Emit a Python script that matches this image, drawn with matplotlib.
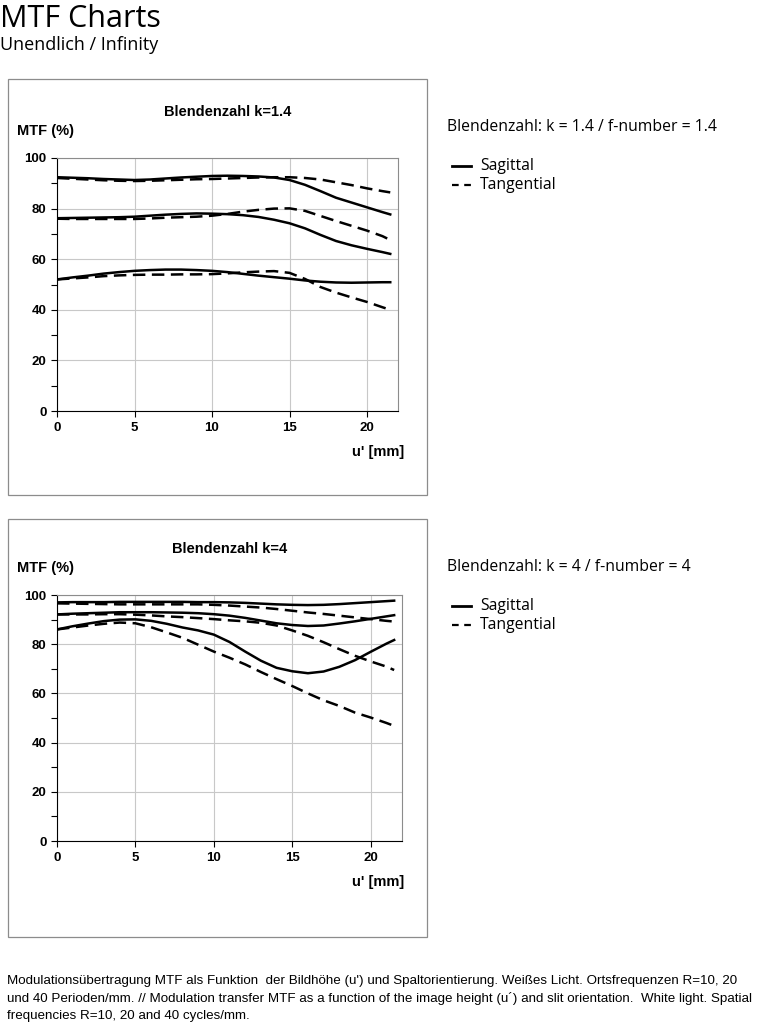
import matplotlib
matplotlib.use("Agg")
import matplotlib.pyplot as plt
from matplotlib.patches import Rectangle
from matplotlib.lines import Line2D

# image height u' [mm]
u = [0, 1, 2, 3, 4, 5, 6, 7, 8, 9, 10, 11, 12, 13, 14, 15, 16, 17, 18, 19, 20, 21, 21.5]

# k = 1.4  (S = sagittal, T = tangential; 10/20/40 cycles/mm)
s10_k14 = [92.4, 92.2, 92.0, 91.7, 91.5, 91.3, 91.5, 91.9, 92.3, 92.6, 92.9, 93.0, 92.9, 92.7, 92.3, 91.3, 89.4, 86.9, 84.3, 82.4, 80.5, 78.6, 77.7]
t10_k14 = [92.1, 91.8, 91.5, 91.2, 91.0, 90.9, 91.0, 91.2, 91.4, 91.6, 91.7, 91.9, 92.1, 92.3, 92.4, 92.4, 92.1, 91.5, 90.4, 89.3, 88.0, 86.9, 86.4]
s20_k14 = [76.2, 76.3, 76.4, 76.5, 76.6, 76.8, 77.2, 77.6, 77.9, 78.1, 78.0, 77.8, 77.4, 76.7, 75.6, 74.2, 72.2, 69.6, 67.2, 65.5, 64.1, 62.8, 62.1]
t20_k14 = [76.0, 75.9, 75.9, 75.9, 75.9, 75.9, 76.1, 76.4, 76.6, 76.8, 77.2, 77.9, 78.8, 79.5, 80.0, 80.1, 79.1, 77.1, 75.1, 73.2, 71.3, 69.1, 67.6]
s40_k14 = [52.0, 52.8, 53.5, 54.3, 54.9, 55.4, 55.7, 55.9, 55.9, 55.7, 55.4, 54.9, 54.2, 53.5, 52.9, 52.3, 51.6, 51.1, 50.8, 50.7, 50.8, 50.9, 50.9]
t40_k14 = [52.0, 52.4, 52.8, 53.3, 53.6, 53.8, 53.9, 53.9, 54.0, 54.0, 54.1, 54.4, 54.8, 55.1, 55.3, 54.6, 52.2, 49.0, 46.8, 44.9, 43.1, 41.0, 40.0]

# k = 4
s10_k4 = [97.0, 97.1, 97.1, 97.1, 97.2, 97.2, 97.2, 97.2, 97.2, 97.1, 97.1, 97.0, 96.8, 96.5, 96.2, 96.0, 95.9, 96.0, 96.3, 96.7, 97.1, 97.5, 97.7]
t10_k4 = [96.6, 96.5, 96.4, 96.3, 96.2, 96.2, 96.2, 96.2, 96.2, 96.2, 96.0, 95.7, 95.3, 94.9, 94.3, 93.6, 92.9, 92.3, 91.6, 90.9, 90.2, 89.5, 89.2]
s20_k4 = [92.1, 92.4, 92.6, 92.8, 93.0, 93.0, 93.0, 92.9, 92.8, 92.6, 92.2, 91.6, 90.7, 89.6, 88.5, 87.8, 87.4, 87.6, 88.4, 89.3, 90.3, 91.3, 91.8]
t20_k4 = [92.1, 92.1, 92.1, 92.2, 92.2, 92.0, 91.7, 91.3, 91.0, 90.6, 90.2, 89.7, 89.3, 88.7, 87.6, 85.6, 83.4, 80.8, 78.0, 75.3, 73.0, 70.9, 69.5]
s40_k4 = [86.0, 87.3, 88.4, 89.4, 90.0, 90.1, 89.5, 88.3, 86.8, 85.6, 83.9, 80.9, 77.0, 73.3, 70.4, 69.0, 68.2, 68.9, 70.8, 73.5, 76.9, 80.2, 81.7]
t40_k4 = [86.0, 86.8, 87.6, 88.3, 88.8, 88.5, 86.9, 84.8, 82.6, 79.8, 77.0, 74.5, 71.8, 68.7, 65.8, 63.0, 60.0, 57.2, 54.9, 52.2, 50.2, 48.0, 46.8]

W, H = 771, 1024
fig = plt.figure(figsize=(W / 100, H / 100), dpi=100)

def fx(px):
    return px / W

def fy(py):
    return 1 - py / H

BOLD = dict(family="Liberation Sans", fontweight="bold")
HEAD = "Open Sans"
DASH = (0, (5, 2.6))


def panel(box, ax_px, title, solid, dashed, info, info_y):
    x0, y0, x1, y1 = box
    fig.patches.append(Rectangle((fx(x0), fy(y1)), fx(x1 - x0), (y1 - y0) / H,
                                 transform=fig.transFigure, fill=False,
                                 edgecolor="#8c8c8c", lw=0.9))
    l, t, r, b = ax_px
    ax = fig.add_axes([fx(l), fy(b), fx(r - l), (b - t) / H])
    for y in solid:
        ax.plot(u, y, color="black", lw=1.8)
    for y in dashed:
        ax.plot(u, y, color="black", lw=1.8, linestyle=DASH)
    ax.set_xlim(0, 22)
    ax.set_ylim(0, 100)
    ax.set_xticks([0, 5, 10, 15, 20])
    ax.set_yticks(range(0, 101, 20))
    ax.set_yticks(range(10, 100, 20), minor=True)
    ax.grid(True, which="major", color="#c8c8c8", lw=0.8)
    ax.set_axisbelow(True)
    for s in ("top", "right"):
        ax.spines[s].set_color("#8c8c8c")
    for s in ("left", "bottom"):
        ax.spines[s].set_color("black")
    ax.tick_params(axis="both", which="both", direction="out", length=4, width=0.8,
                   labelsize=9.5)
    ax.tick_params(axis="x", pad=4)
    for lab in ax.get_xticklabels() + ax.get_yticklabels():
        lab.set_fontfamily("Liberation Sans")
        lab.set_fontweight("bold")
    fig.text(fx((l + r) / 2), fy(t - 46), title, ha="center", va="center", fontsize=10.5, **BOLD)
    fig.text(fx(17), fy(t - 27), "MTF (%)", ha="left", va="center", fontsize=10.5, **BOLD)
    fig.text(fx(404), fy(b + 41), "u' [mm]", ha="right", va="center", fontsize=10.5, **BOLD)

    fig.text(fx(447), fy(info_y), info, ha="left", va="center", fontsize=11.3, family=HEAD)
    for i, (ls, name) in enumerate([("-", "Sagittal"), (DASH, "Tangential")]):
        yy = fy(info_y + 39 + i * 19)
        fig.lines.append(Line2D([fx(452), fx(471)], [yy, yy], transform=fig.transFigure,
                                color="black", lw=2.0 if ls == "-" else 1.6,
                                linestyle=ls if ls == "-" else (0, (3, 2.5))))
        fig.text(fx(480), yy, name, ha="left", va="center", fontsize=11.3, family=HEAD)
    return ax


panel((8, 79, 427, 495), (57, 158, 398, 411), "Blendenzahl k=1.4",
      [s10_k14, s20_k14, s40_k14], [t10_k14, t20_k14, t40_k14],
      "Blendenzahl: k = 1.4 / f-number = 1.4", 127)
panel((8, 519, 427, 937), (57, 595, 402, 841), "Blendenzahl k=4",
      [s10_k4, s20_k4, s40_k4], [t10_k4, t20_k4, t40_k4],
      "Blendenzahl: k = 4 / f-number = 4", 567)

fig.text(0, fy(19), "MTF Charts", ha="left", va="center", fontsize=22, family=HEAD)
fig.text(0, fy(45), "Unendlich / Infinity", ha="left", va="center", fontsize=13, family=HEAD)

caption = ("Modulationsübertragung MTF als Funktion  der Bildhöhe (u') und Spaltorientierung. "
           "Weißes Licht. Ortsfrequenzen R=10, 20\n"
           "und 40 Perioden/mm. // Modulation transfer MTF as a function of the image height (u´) "
           "and slit orientation.  White light. Spatial\n"
           "frequencies R=10, 20 and 40 cycles/mm.")
fig.text(fx(7), fy(975), caption, ha="left", va="top", fontsize=9.6,
         family="Liberation Sans", linespacing=1.52)

fig.savefig("out.png", dpi=100)
